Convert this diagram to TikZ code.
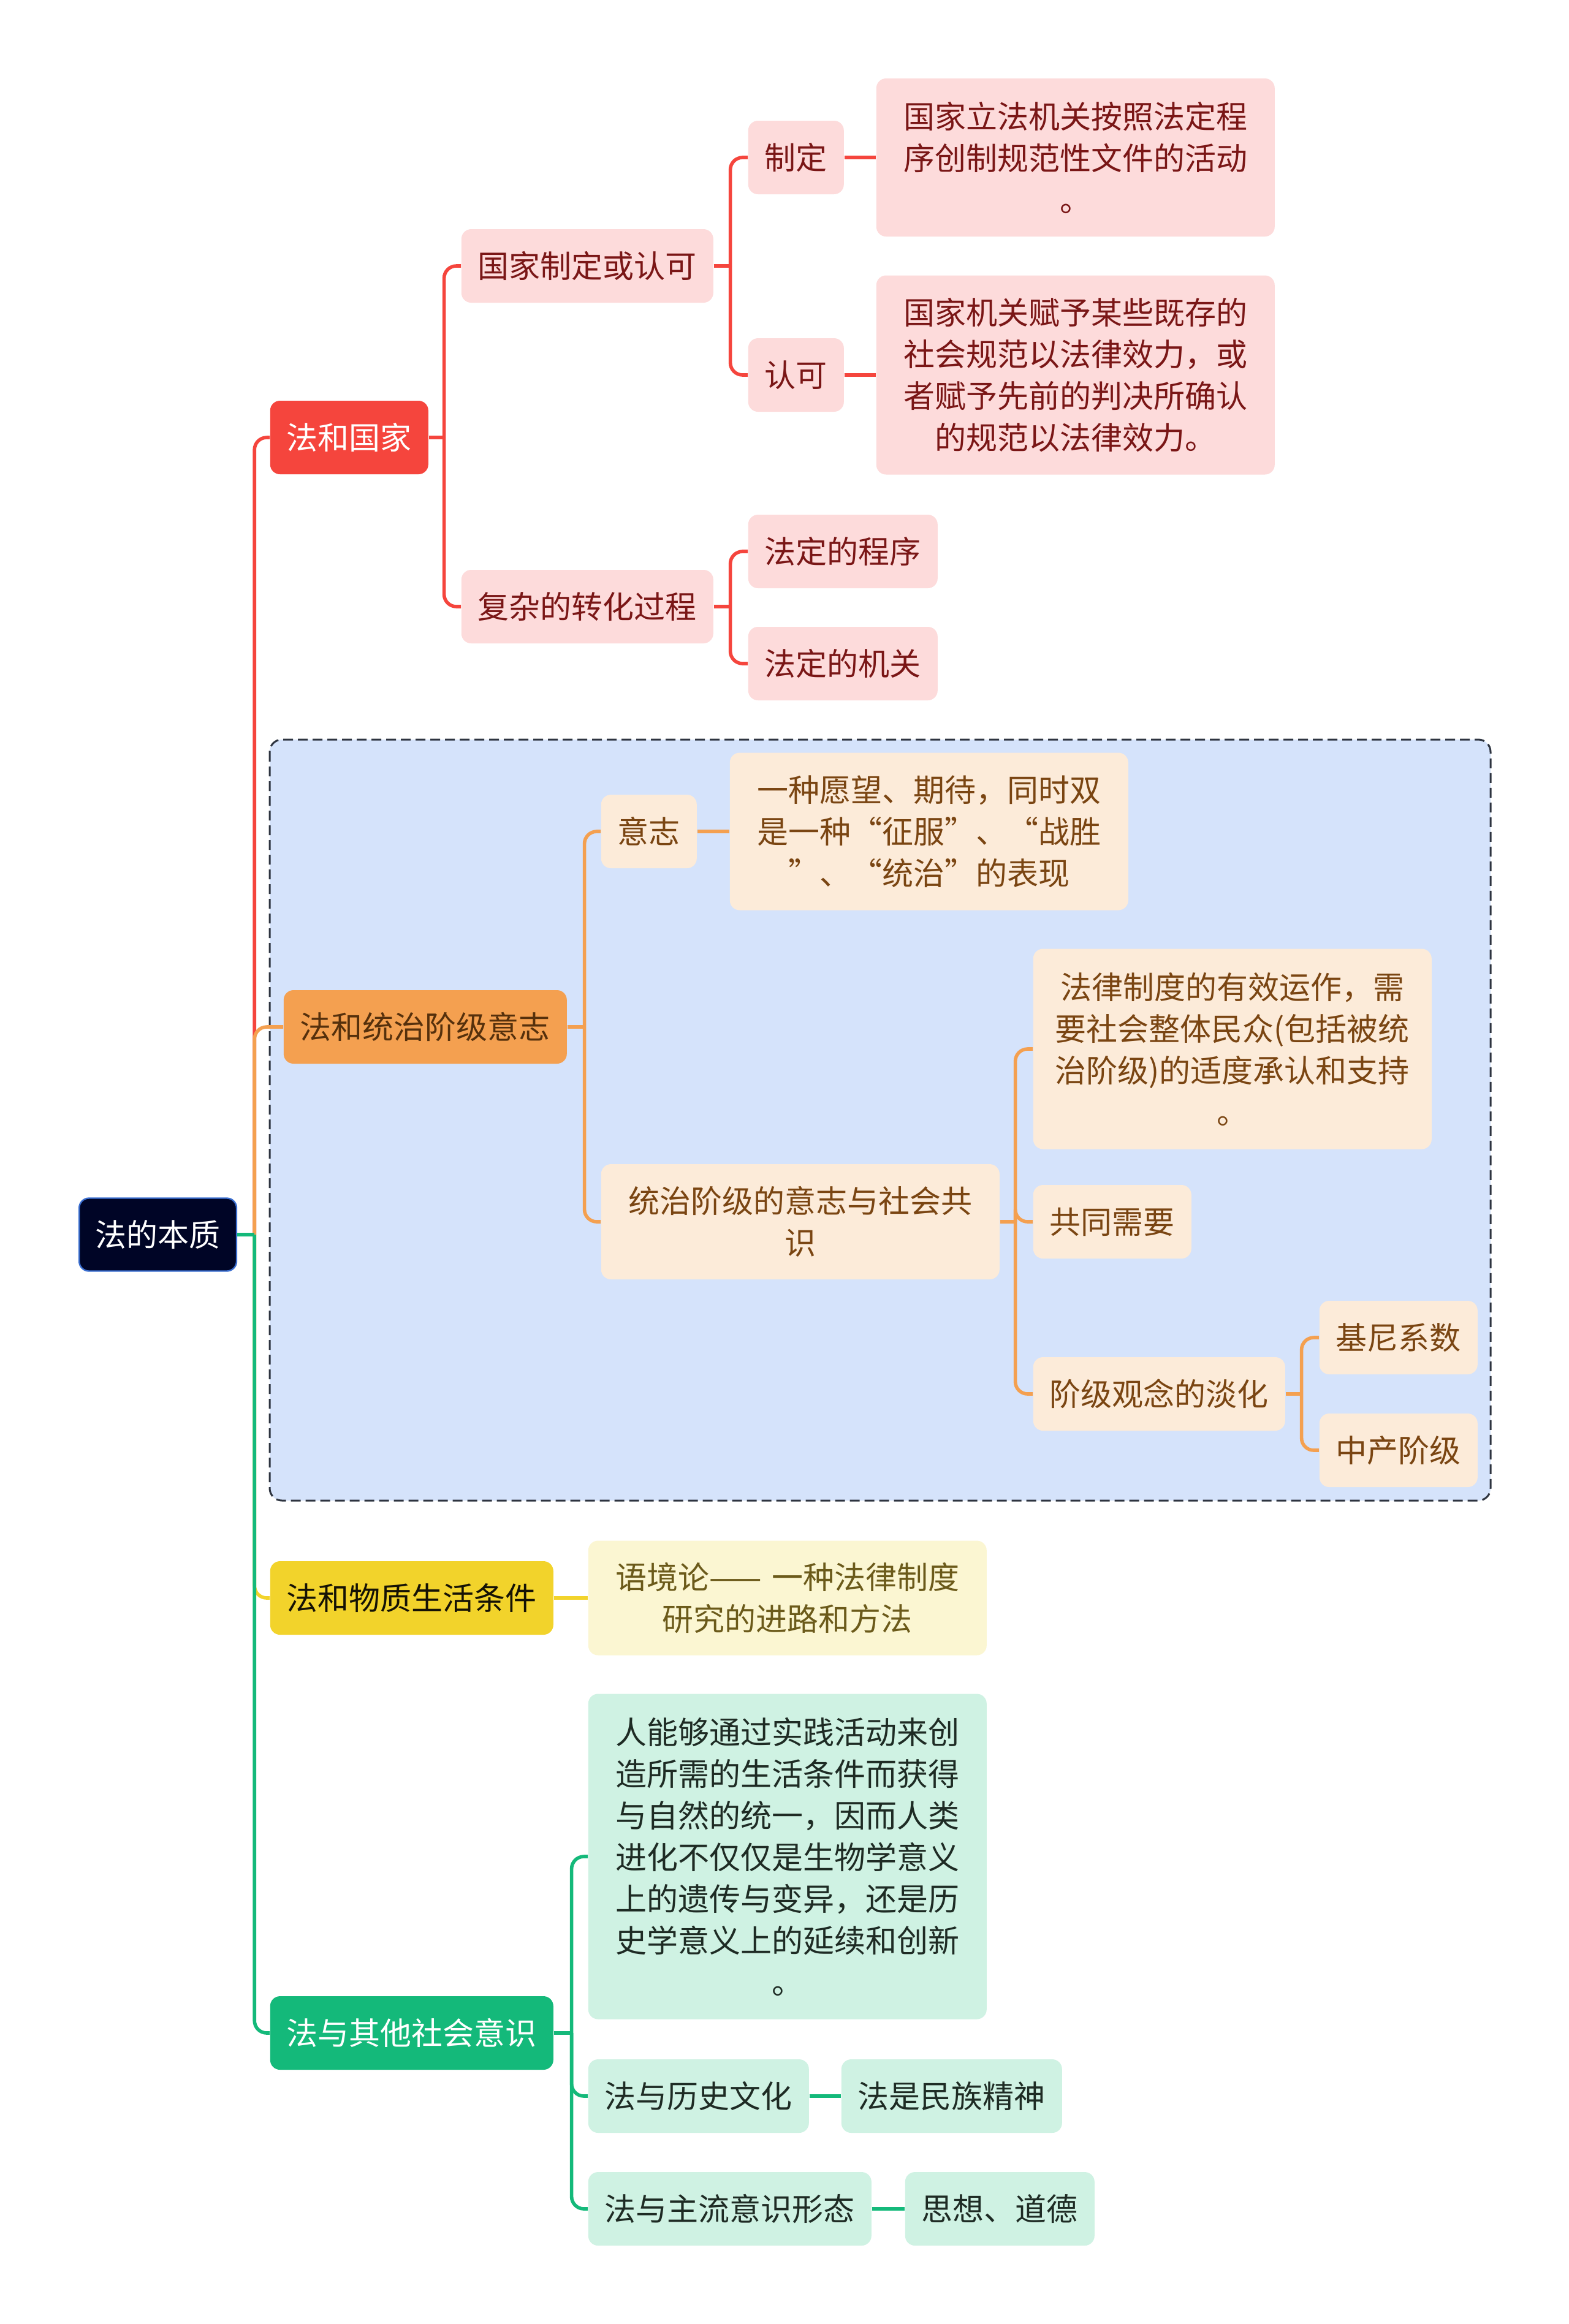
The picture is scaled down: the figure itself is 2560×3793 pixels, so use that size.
\documentclass[tikz,border=0pt]{standalone}
\usepackage{fontspec}
\setmainfont{Noto Sans CJK SC}

\definecolor{redmain}{HTML}{F5453D}
\definecolor{redlight}{HTML}{FDDBDB}
\definecolor{redtext}{HTML}{7A1616}
\definecolor{orgmain}{HTML}{F4A050}
\definecolor{orglight}{HTML}{FCEBD9}
\definecolor{orgtext}{HTML}{7A4512}
\definecolor{ylwmain}{HTML}{F2D32B}
\definecolor{ylwlight}{HTML}{FBF6D2}
\definecolor{ylwtext}{HTML}{6B5A1A}
\definecolor{grnmain}{HTML}{14B97A}
\definecolor{grnlight}{HTML}{CFF2E3}
\definecolor{grntext}{HTML}{1E2B24}
\definecolor{rootfill}{HTML}{000526}
\definecolor{rootedge}{HTML}{3A6ED0}
\definecolor{zonefill}{HTML}{D5E3FB}
\definecolor{zoneedge}{HTML}{2E3440}

\begin{document}
\begin{tikzpicture}[
    x=0.25pt, y=-0.25pt,
    topic/.style={rectangle, rounded corners=4pt, anchor=west, inner xsep=6.75pt, inner ysep=0pt, minimum height=30pt, font=\fontsize{12.75pt}{17pt}\selectfont},
    note/.style={topic, text width=150pt, inner xsep=6.25pt, align=center},
    rootbox/.style={topic, fill=rootfill, draw=rootedge, line width=0.6pt, text=white, inner xsep=6.6pt, minimum height=29.75pt},
    redbox/.style={fill=redlight, text=redtext},
    orgbox/.style={fill=orglight, text=orgtext},
    ylwbox/.style={fill=ylwlight, text=ylwtext},
    grnbox/.style={fill=grnlight, text=grntext},
    link/.style={line width=1.4pt},
    elbow/.style={link, rounded corners=5pt}
]
    \fill[white] (0,0) rectangle (2560,3793);
    \useasboundingbox (0,0) rectangle (2560,3793);

    % zone round the second branch
    \draw[fill=zonefill, draw=zoneedge, line width=0.75pt, dash pattern=on 4pt off 2pt, rounded corners=5pt] (440,1207) rectangle (2432,2449);

    \node[rootbox] (root) at (128,2015) {法的本质};

    \node[topic, fill=redmain, text=white] (gj) at (440,714) {法和国家};
    \node[topic, fill=orgmain, text=orgtext!70!black] (tz) at (462,1676) {法和统治阶级意志};
    \node[topic, fill=ylwmain, text=black!80!ylwtext] (wz) at (440,2608) {法和物质生活条件};
    \node[topic, fill=grnmain, text=white] (qt) at (440,3318) {法与其他社会意识};

    % 法和国家
    \node[topic, redbox] (zdrk) at (752,434) {国家制定或认可};
    \node[topic, redbox] (zh) at (752,990) {复杂的转化过程};
    \node[topic, redbox] (zd) at (1220,257) {制定};
    \node[topic, redbox] (rk) at (1220,612) {认可};
    \node[note, redbox, minimum height=64.5pt] (zdn) at (1429,257) {国家立法机关按照法定程\\序创制规范性文件的活动\\。};
    \node[note, redbox, minimum height=81.25pt] (rkn) at (1429,612) {国家机关赋予某些既存的\\社会规范以法律效力，或\\者赋予先前的判决所确认\\的规范以法律效力。};
    \node[topic, redbox] (cx) at (1220,900) {法定的程序};
    \node[topic, redbox] (jg) at (1220,1083) {法定的机关};

    % 法和统治阶级意志
    \node[topic, orgbox] (yz) at (980,1357) {意志};
    \node[note, orgbox, minimum height=64.25pt] (yzn) at (1190,1357) {一种愿望、期待，同时双\\是一种“征服”、“战胜\\”、“统治”的表现};
    \node[note, orgbox, minimum height=47pt] (gs) at (980,1994) {统治阶级的意志与社会共\\识};
    \node[note, orgbox, minimum height=81.75pt] (yx) at (1685,1712) {法律制度的有效运作，需\\要社会整体民众(包括被统\\治阶级)的适度承认和支持\\。};
    \node[topic, orgbox] (gt) at (1685,1994) {共同需要};
    \node[topic, orgbox] (dh) at (1685,2275) {阶级观念的淡化};
    \node[topic, orgbox] (jn) at (2152,2183) {基尼系数};
    \node[topic, orgbox] (zc) at (2152,2367) {中产阶级};

    % 法和物质生活条件
    \node[note, ylwbox, minimum height=46.75pt] (yj) at (959,2608) {语境论—— 一种法律制度\\研究的进路和方法};

    % 法与其他社会意识
    \node[note, grnbox, minimum height=132.75pt] (rl) at (959,3030) {人能够通过实践活动来创\\造所需的生活条件而获得\\与自然的统一，因而人类\\进化不仅仅是生物学意义\\上的遗传与变异，还是历\\史学意义上的延续和创新\\。};
    \node[topic, grnbox] (ls) at (959,3421) {法与历史文化};
    \node[topic, grnbox] (zl) at (959,3605) {法与主流意识形态};
    \node[topic, grnbox] (mz) at (1372,3421) {法是民族精神};
    \node[topic, grnbox] (sx) at (1476,3605) {思想、道德};

    % trunk
    \draw[link, grnmain] (root.east) -- ++(28,0) coordinate (rj);
    \draw[elbow, redmain] (rj) |- (gj.west);
    \draw[elbow, orgmain] (rj) |- (tz.west);
    \draw[elbow, ylwmain] (rj) |- (wz.west);
    \draw[elbow, grnmain] (rj) |- (qt.west);
    \draw[link, grnmain] (root.east) -- (rj);

    % red branch
    \draw[link, redmain] (gj.east) -- ++(25,0) coordinate (gjj);
    \draw[elbow, redmain] (gjj) |- (zdrk.west);
    \draw[elbow, redmain] (gjj) |- (zh.west);
    \draw[link, redmain] (zdrk.east) -- ++(27,0) coordinate (zdrkj);
    \draw[elbow, redmain] (zdrkj) |- (zd.west);
    \draw[elbow, redmain] (zdrkj) |- (rk.west);
    \draw[link, redmain] (zd) -- (zdn);
    \draw[link, redmain] (rk) -- (rkn);
    \draw[link, redmain] (zh.east) -- ++(27,0) coordinate (zhj);
    \draw[elbow, redmain] (zhj) |- (cx.west);
    \draw[elbow, redmain] (zhj) |- (jg.west);

    % orange branch
    \draw[link, orgmain] (tz.east) -- ++(28,0) coordinate (tzj);
    \draw[elbow, orgmain] (tzj) |- (yz.west);
    \draw[elbow, orgmain] (tzj) |- (gs.west);
    \draw[link, orgmain] (yz) -- (yzn);
    \draw[link, orgmain] (gs.east) -- ++(25,0) coordinate (gsj);
    \draw[elbow, orgmain] (gsj) |- (yx.west);
    \draw[elbow, orgmain] (gsj) |- (gt.west);
    \draw[elbow, orgmain] (gsj) |- (dh.west);
    \draw[link, orgmain] (dh.east) -- ++(26,0) coordinate (dhj);
    \draw[elbow, orgmain] (dhj) |- (jn.west);
    \draw[elbow, orgmain] (dhj) |- (zc.west);

    % yellow branch
    \draw[link, ylwmain] (wz) -- (yj);

    % green branch
    \draw[link, grnmain] (qt.east) -- ++(29,0) coordinate (qtj);
    \draw[elbow, grnmain] (qtj) |- (rl.west);
    \draw[elbow, grnmain] (qtj) |- (ls.west);
    \draw[elbow, grnmain] (qtj) |- (zl.west);
    \draw[link, grnmain] (ls) -- (mz);
    \draw[link, grnmain] (zl) -- (sx);
\end{tikzpicture}
\end{document}
